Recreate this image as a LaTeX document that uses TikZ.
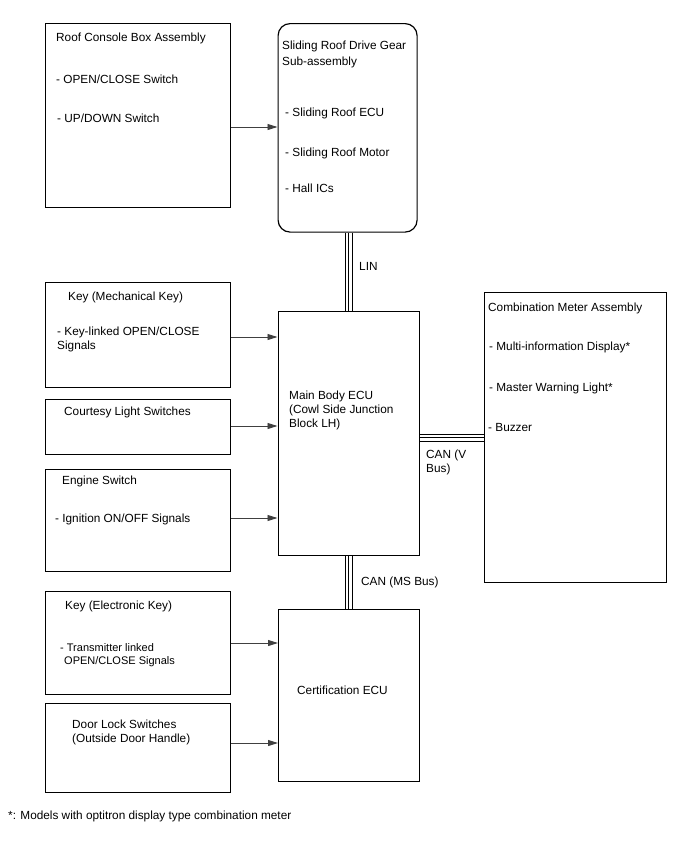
\documentclass[tikz,border=0pt]{standalone}
\usepackage{fontspec}
\setmainfont{Liberation Sans}
\usetikzlibrary{arrows.meta, backgrounds}
\tikzset{
  every picture/.style={font=\fontsize{11.8}{14}\selectfont},
  box/.style={draw, line width=1.2pt, anchor=north west, inner sep=0pt},
  rbox/.style={box, rounded corners=12pt},
  txt/.style={anchor=west, inner sep=0pt, text height=8.5pt, text depth=0pt},
  small/.style={txt, font=\fontsize{11}{13}\selectfont},
  arrow/.style={-{Triangle[length=10pt, width=6pt]}, draw=black!75, line width=0.9pt},
  bus/.style={line width=8pt, postaction={draw=white, line width=6pt}, postaction={draw=black, line width=1pt}},
}

\begin{document}
\begin{tikzpicture}[x=1pt, y=-1pt]
  \useasboundingbox (0,0) rectangle (688,852);
  % the boxes
  \node[box, minimum width=185pt, minimum height=184pt] (roof) at (44.5,23) {};
  \node[rbox, minimum width=139pt, minimum height=208.5pt] (sroof) at (277.5,23) {};
  \node[box, minimum width=185pt, minimum height=105pt] (keym) at (44.5,282) {};
  \node[box, minimum width=185pt, minimum height=55pt] (court) at (44.5,399) {};
  \node[box, minimum width=185pt, minimum height=102pt] (eng) at (44.5,469) {};
  \node[box, minimum width=185pt, minimum height=103pt] (keye) at (44.5,591) {};
  \node[box, minimum width=185pt, minimum height=89pt] (door) at (44.5,703) {};
  \node[box, minimum width=141.5pt, minimum height=244pt] (main) at (277.5,311) {};
  \node[box, minimum width=141pt, minimum height=172pt] (cert) at (278,609) {};
  \node[box, minimum width=182pt, minimum height=289.5pt] (comb) at (484,292) {};

  % texts inside the boxes
  \foreach \i/\x/\y/\t in {1/56/37/Roof Console Box Assembly,
      2/56/79/{- OPEN/CLOSE Switch}, 3/57/118/{- UP/DOWN Switch}}
    \node[txt] (roof\i) at (\x,\y) {\t};
  \foreach \i/\x/\y/\t in {1/282/45/Sliding Roof Drive Gear, 2/282/61/Sub-assembly,
      3/285/112/- Sliding Roof ECU, 4/285/152/- Sliding Roof Motor, 5/285/188/- Hall ICs}
    \node[txt] (sroof\i) at (\x,\y) {\t};
  \foreach \i/\x/\y/\t in {1/68/296/Key (Mechanical Key),
      2/57/331/{- Key-linked OPEN/CLOSE}, 3/57/345/Signals}
    \node[txt] (keym\i) at (\x,\y) {\t};
  \node[txt] (court1) at (64,411) {Courtesy Light Switches};
  \node[txt] (eng1) at (62,480) {Engine Switch};
  \node[txt] (eng2) at (55,518) {- Ignition ON/OFF Signals};
  \node[txt] (keye1) at (65,605) {Key (Electronic Key)};
  \node[small] (keye2) at (60,647) {- Transmitter linked};
  \node[small] (keye3) at (64,660) {OPEN/CLOSE Signals};
  \node[txt] (door1) at (72,724) {Door Lock Switches};
  \node[txt] (door2) at (72,738) {(Outside Door Handle)};
  \foreach \i/\t in {1/Main Body ECU, 2/(Cowl Side Junction, 3/Block LH)}
    \node[txt] (main\i) at (289,381+14*\i) {\t};
  \node[txt] (cert1) at (297,690) {Certification ECU};
  \foreach \i/\x/\y/\t in {1/488/307/Combination Meter Assembly,
      2/489/346/- Multi-information Display*, 3/489/387/- Master Warning Light*,
      4/488/427/- Buzzer}
    \node[txt] (comb\i) at (\x,\y) {\t};

  % signal lines
  \draw[arrow] (roof.east |- 0,127) -- (sroof.west |- 0,127);
  \draw[arrow] (keym.east |- 0,337) -- (main.west |- 0,337);
  \draw[arrow] (court.east |- 0,426) -- (main.west |- 0,426);
  \draw[arrow] (eng.east |- 0,518) -- (main.west |- 0,518);
  \draw[arrow] (keye.east |- 0,643) -- (cert.west |- 0,643);
  \draw[arrow] (door.east |- 0,743) -- (cert.west |- 0,743);

  % bus lines
  \begin{scope}[on background layer]
    \draw[bus] (348.5,0 |- sroof.south) -- (348.5,0 |- main.north);
    \draw[bus] (main.east |- 0,437.5) -- (comb.west |- 0,437.5);
    \draw[bus] (348.5,0 |- main.south) -- (348.5,0 |- cert.north);
  \end{scope}
  \node[txt] (lin) at (359,266) {LIN};
  \node[txt] (canv1) at (426,454) {CAN (V};
  \node[txt] (canv2) at (426,468) {Bus)};
  \node[txt] (canms) at (361,581) {CAN (MS Bus)};

  \node[txt] (foot) at (8,815) {*: Models with optitron display type combination meter};
\end{tikzpicture}
\end{document}
